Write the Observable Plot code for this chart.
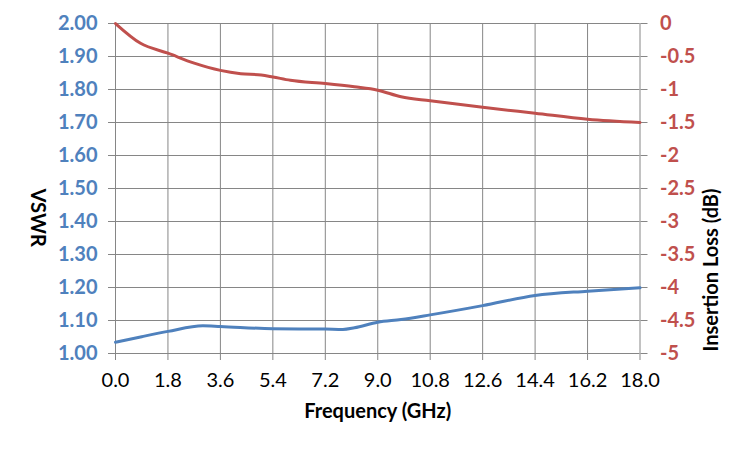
<!DOCTYPE html>
<html><head><meta charset="utf-8">
<script src="https://cdn.jsdelivr.net/npm/d3@7"></script>
<script src="https://cdn.jsdelivr.net/npm/@observablehq/plot@0.6"></script>
<style>body{margin:0;background:#fff} svg{display:block}</style>
</head><body><div id="chart"></div>
<script>
const vswrFreq = [0, 0.9, 1.8, 3.0, 3.6, 5.4, 7.2, 7.8, 8.2, 9.0, 9.8, 10.8, 12.6, 14.4, 16.2, 18.0];
const vswrVals = [1.034, 1.051, 1.067, 1.084, 1.082, 1.075, 1.074, 1.073, 1.078, 1.095, 1.103, 1.117, 1.145, 1.176, 1.189, 1.199];
const lossFreq = [0, 0.86, 1.8, 2.7, 3.6, 4.3, 5.0, 5.4, 6.0, 7.2, 8.2, 9.0, 9.8, 10.8, 12.6, 14.4, 16.2, 18.0];
const lossVals = [0, -0.30, -0.45, -0.60, -0.71, -0.76, -0.78, -0.81, -0.86, -0.91, -0.96, -1.01, -1.11, -1.17, -1.27, -1.36, -1.45, -1.50];
const xTicks = [0, 1.8, 3.6, 5.4, 7.2, 9.0, 10.8, 12.6, 14.4, 16.2, 18.0];
const yTicks = [1.0, 1.1, 1.2, 1.3, 1.4, 1.5, 1.6, 1.7, 1.8, 1.9, 2.0];

const blue = "#4F81BD", red = "#C0504D", grid = "#868686";
// right axis (dB) mapped onto the VSWR scale: dB 0 -> 2.00, dB -5 -> 1.00
const toV = d => 2 + d / 5;
const vswrData = vswrFreq.map((f, i) => ({f, v: vswrVals[i]}));
const lossData = lossFreq.map((f, i) => ({f, v: toV(lossVals[i])}));

const chart = Plot.plot({
  width: 750, height: 450,
  marginLeft: 115, marginRight: 110.5, marginTop: 23, marginBottom: 97,
  style: {fontFamily: "Lato, 'Open Sans', sans-serif", fontSize: "20px", background: "#fff", color: "#000"},
  x: {domain: [0, 18]},
  y: {domain: [1, 2]},
  marks: [
    Plot.gridX(xTicks, {stroke: grid, strokeOpacity: 1}),
    Plot.gridY(yTicks, {stroke: grid, strokeOpacity: 1}),
    Plot.axisX({ticks: xTicks, tickSize: 7, tickPadding: 12, stroke: grid, fill: "#000",
      tickFormat: d3.format(".1f"), label: null}),
    Plot.axisY({ticks: yTicks, anchor: "left", tickSize: 7, tickPadding: 11, stroke: grid, fill: blue,
      fontWeight: "bold", tickFormat: d3.format(".2f"), label: null}),
    Plot.axisY({ticks: yTicks, anchor: "right", tickSize: 7, tickPadding: 13, stroke: grid, fill: red,
      fontWeight: "bold", tickFormat: d => { const v = Math.round((d - 2) * 50) / 10; return v === 0 ? "0" : String(v); }, label: null}),
    Plot.line(lossData, {x: "f", y: "v", stroke: red, strokeWidth: 3, curve: "monotone-x"}),
    Plot.line(vswrData, {x: "f", y: "v", stroke: blue, strokeWidth: 3, curve: "monotone-x"}),
    Plot.text(["VSWR"], {frameAnchor: "left", dx: -78, rotate: 90, fontWeight: "bold", fontSize: 20, fill: "#000", lineAnchor: "middle"}),
    Plot.text(["Insertion Loss (dB)"], {frameAnchor: "right", dx: 72, rotate: -90, fontWeight: "bold", fontSize: 20, fill: "#000", lineAnchor: "middle"}),
    Plot.text(["Frequency (GHz)"], {frameAnchor: "bottom", dy: 58, fontWeight: "bold", fontSize: 20, fill: "#000", lineAnchor: "middle"})
  ]
});
document.getElementById("chart").appendChild(chart);
</script>
</body></html>
